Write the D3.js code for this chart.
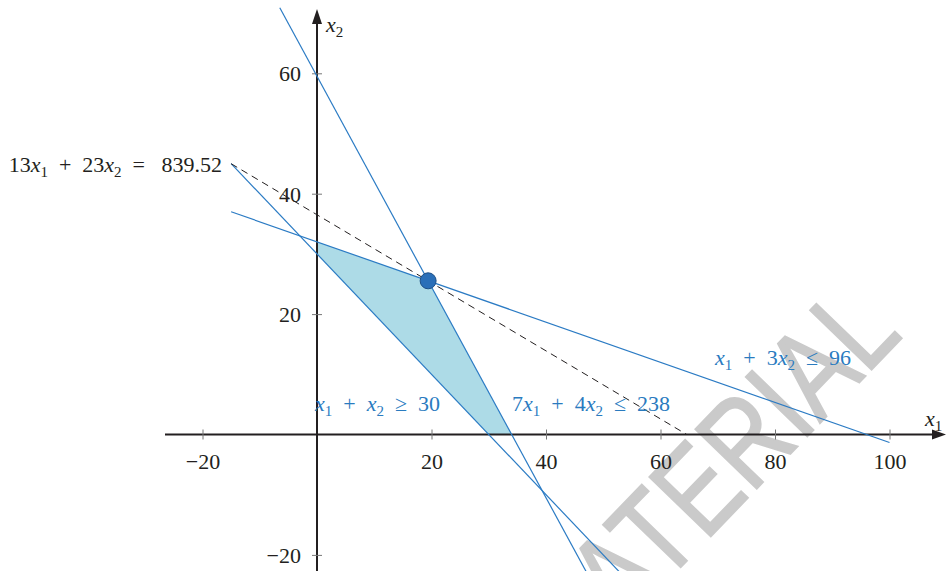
<!DOCTYPE html>
<html><head><meta charset="utf-8">
<script src="https://cdn.jsdelivr.net/npm/d3@7"></script>
<style>body{margin:0;background:#fff}svg{display:block}</style>
</head><body>
<svg id="c" width="946" height="571"></svg>
<script>
// ---- data ----
const xTicks = [-20, 20, 40, 60, 80, 100];
const yTicks = [-20, 20, 40, 60];
// constraint lines a*x1 + b*x2 = c, drawn between x1 endpoints
const constraintA = [1, 7, 1];
const constraintB = [3, 4, 1];
const constraintC = [96, 238, 30];
const constraintX1Range = [[-15, 100], [-6.5, 50], [-15, 60]];
// objective
const objCoef = [13, 23];
const objValue = 839.52;
const objX1Range = [-15, 64.58];
// feasible region vertices
const regionX1 = [0, 0, 19.41, 34, 30];
const regionX2 = [30, 32, 25.53, 0, 0];
// optimum
const optimum = [19.41, 25.53];

const W = 946, H = 571;
const svg = d3.select('#c');
const x = d3.scaleLinear().domain([0, 100]).range([317, 889.5]);
const y = d3.scaleLinear().domain([0, 60]).range([434.5, 73.3]);

const BLUE = '#2b7bc4', TEXTBLUE = '#2a7bbf', FILL = '#a9d9e6';
const SERIF = "'Liberation Serif', 'DejaVu Serif', Times, serif";

// watermark
svg.append('text').attr('transform', 'translate(622,628) rotate(-46) scale(0.8,1)')
  .style('font-family', "'Liberation Sans', Arial, sans-serif").attr('font-size', 124)
  .attr('fill', '#cacaca').attr('stroke', '#cacaca').attr('stroke-width', 2).text('ATERIAL');

// feasible region
svg.append('path')
  .attr('d', d3.line()(regionX1.map((v, i) => [x(v), y(regionX2[i])])) + 'Z')
  .attr('fill', FILL).attr('fill-opacity', 0.95).attr('stroke', 'none');

// axes
const axisCol = '#231f20';
svg.append('line').attr('x1', 165).attr('x2', 936).attr('y1', y(0)).attr('y2', y(0))
  .attr('stroke', axisCol).attr('stroke-width', 2);
svg.append('path').attr('d', `M946,${y(0)} L932,${y(0)-5} L932,${y(0)+5}Z`).attr('fill', axisCol);
svg.append('line').attr('x1', x(0)).attr('x2', x(0)).attr('y1', H).attr('y2', 20)
  .attr('stroke', axisCol).attr('stroke-width', 2);
svg.append('path').attr('d', `M${x(0)},9 L${x(0)-5},24 L${x(0)+5},24Z`).attr('fill', axisCol);

// ticks via d3 axes
const fmt = d => d < 0 ? '\u2212' + Math.abs(d) : d;
const xAxis = d3.axisBottom(x).tickValues(xTicks).tickSize(10).tickFormat(fmt);
const gx = svg.append('g').attr('transform', `translate(0,${y(0) - 5})`).call(xAxis);
gx.attr('font-family', null);
gx.select('.domain').remove();
gx.selectAll('.tick line').attr('stroke', '#777').attr('stroke-width', 1);
gx.selectAll('.tick text').style('font-family', SERIF).style('font-size', '22px').attr('fill', '#231f20')
  .attr('y', 0).attr('dy', 0).attr('transform', 'translate(0,39)');

const yAxis = d3.axisLeft(y).tickValues(yTicks).tickSize(10).tickFormat(fmt);
const gy = svg.append('g').attr('transform', `translate(${x(0) + 5},0)`).call(yAxis);
gy.attr('font-family', null);
gy.select('.domain').remove();
gy.selectAll('.tick line').attr('stroke', '#777').attr('stroke-width', 1);
gy.selectAll('.tick text').style('font-family', SERIF).style('font-size', '22px').attr('fill', '#231f20')
  .attr('x', -21).attr('dy', '0.34em');

// constraint lines
constraintA.forEach((a, i) => {
  const b = constraintB[i], c = constraintC[i];
  const pts = constraintX1Range[i].map(v => [x(v), y((c - a * v) / b)]);
  svg.append('line').attr('x1', pts[0][0]).attr('y1', pts[0][1]).attr('x2', pts[1][0]).attr('y2', pts[1][1])
    .attr('stroke', BLUE).attr('stroke-width', 1.2);
});

// objective dashed line
{
  const pts = objX1Range.map(v => [x(v), y((objValue - objCoef[0] * v) / objCoef[1])]);
  svg.append('line').attr('x1', pts[0][0]).attr('y1', pts[0][1]).attr('x2', pts[1][0]).attr('y2', pts[1][1])
    .attr('stroke', '#231f20').attr('stroke-width', 1).attr('stroke-dasharray', '7,5');
}

// optimum point
svg.append('circle').attr('cx', x(optimum[0])).attr('cy', y(optimum[1])).attr('r', 8)
  .attr('fill', '#2a6fb8').attr('stroke', '#1d4f86').attr('stroke-width', 1);

// math label helper
const SP = '\u2002';
function mathLabel(parts, px, py, anchor, color) {
  const t = svg.append('text').attr('x', px).attr('y', py).attr('text-anchor', anchor)
    .style('font-family', SERIF).style('font-size', '22px').attr('fill', color).style('white-space', 'pre');
  parts.forEach(([s, k]) => {
    const ts = t.append('tspan').text(s);
    if (k === 'i') ts.style('font-style', 'italic');
    if (k === 's') ts.style('font-size', '15px').attr('dy', 5);
    if (k === 'a') ts.attr('dy', -5);
  });
  return t;
}
mathLabel([['13', 'n'], ['x', 'i'], ['1', 's'], [SP + '+' + SP + '23', 'a'], ['x', 'i'], ['2', 's'], [SP + '=' + SP + ' 839.52', 'a']], 222, 172, 'end', '#231f20');
mathLabel([['x', 'i'], ['1', 's'], [SP + '+' + SP + '3', 'a'], ['x', 'i'], ['2', 's'], [SP + '\u2264' + '  96', 'a']], 715, 365, 'start', TEXTBLUE);
mathLabel([['7', 'n'], ['x', 'i'], ['1', 's'], [SP + '+' + SP + '4', 'a'], ['x', 'i'], ['2', 's'], [SP + '\u2264' + SP + '238', 'a']], 512, 411, 'start', TEXTBLUE);
mathLabel([['x', 'i'], ['1', 's'], [SP + '+' + SP, 'a'], ['x', 'i'], ['2', 's'], [SP + '\u2265' + '  30', 'a']], 315, 411, 'start', TEXTBLUE);

// axis labels
mathLabel([['x', 'i'], ['2', 's']], 326, 32, 'start', '#231f20');
mathLabel([['x', 'i'], ['1', 's']], 925, 426, 'start', '#231f20');
</script>
</body></html>
